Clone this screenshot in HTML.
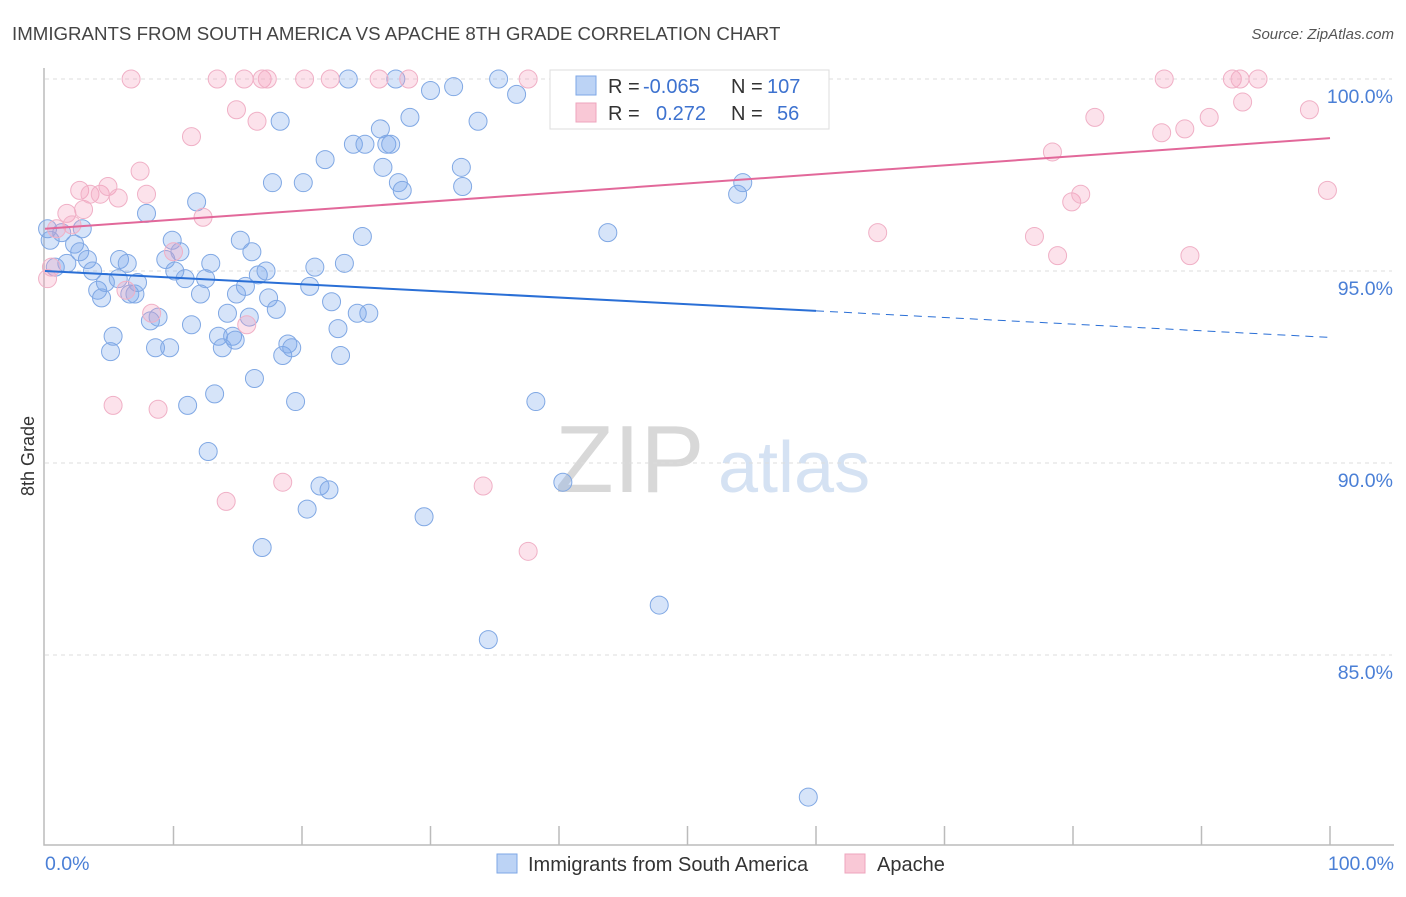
<!DOCTYPE html>
<html><head><meta charset="utf-8"><style>
body{margin:0;background:#fff;font-family:"Liberation Sans",sans-serif}
svg text{font-family:"Liberation Sans",sans-serif}
</style></head><body>
<svg id="chart" width="1406" height="892" xmlns="http://www.w3.org/2000/svg">
<text x="12" y="40" font-size="18.7" fill="#444">IMMIGRANTS FROM SOUTH AMERICA VS APACHE 8TH GRADE CORRELATION CHART</text>
<text x="1394" y="39" font-size="15" fill="#555" font-style="italic" text-anchor="end">Source: ZipAtlas.com</text>
<g>
<text x="555" y="492" font-size="96" fill="#d8d8d8" font-family="Liberation Serif,serif">ZIP</text>
<text x="718" y="492" font-size="72" fill="#d5e2f3">atlas</text>
</g>
<g id="grid"></g>
<g id="axes"></g>
<g id="pts"></g>
<g id="lines"></g>
<text transform="translate(34,456) rotate(-90)" font-size="18" fill="#333" text-anchor="middle">8th Grade</text>
<text x="45" y="870" font-size="19.5" fill="#4a7fd6">0.0%</text>
<text x="1394" y="870" font-size="19.5" fill="#4a7fd6" text-anchor="end">100.0%</text>
<g>
<rect x="550" y="70" width="279" height="59" fill="#fff" stroke="#ddd"/>
<rect x="576" y="76" width="20" height="19" fill="#bcd3f5" stroke="#7ea7e6"/>
<rect x="576" y="103" width="20" height="19" fill="#f9c8d6" stroke="#eea5bd"/>
<text x="608" y="93" font-size="20" fill="#333">R =</text>
<text x="643" y="93" font-size="20" fill="#3d72cf">-0.065</text>
<text x="731" y="93" font-size="20" fill="#333">N =</text>
<text x="767" y="93" font-size="20" fill="#3d72cf">107</text>
<text x="608" y="120" font-size="20" fill="#333">R =</text>
<text x="656" y="120" font-size="20" fill="#3d72cf">0.272</text>
<text x="731" y="120" font-size="20" fill="#333">N =</text>
<text x="777" y="120" font-size="20" fill="#3d72cf">56</text>
</g>
<g>
<rect x="497" y="854" width="20" height="19" fill="#bcd3f5" stroke="#7ea7e6"/>
<text x="528" y="871" font-size="20" fill="#333">Immigrants from South America</text>
<rect x="845" y="854" width="20" height="19" fill="#f9c8d6" stroke="#eea5bd"/>
<text x="877" y="871" font-size="20" fill="#333">Apache</text>
</g>
</svg>
<script>
const blueX=[0.2,0.4,0.8,1.3,1.7,2.3,2.7,2.9,3.3,3.7,4.1,4.4,4.7,5.1,5.3,5.7,5.8,6.4,6.6,7.0,7.2,7.9,8.2,8.6,8.8,9.7,9.4,9.9,10.1,10.5,10.9,11.4,11.1,11.8,12.1,12.5,12.7,12.9,13.2,13.5,13.8,14.2,14.6,14.8,14.9,15.2,15.6,15.9,16.1,16.3,16.6,16.9,17.2,17.4,17.7,18.0,18.3,18.5,18.9,19.2,19.5,20.1,20.6,20.4,21.0,21.4,21.8,22.1,22.3,22.8,23.0,23.3,23.6,24.0,24.3,24.7,24.9,25.2,26.1,26.3,26.6,26.9,27.5,27.8,28.4,27.3,29.5,30.0,31.8,32.4,32.5,33.7,34.5,35.3,36.7,38.2,40.3,43.8,47.8,53.9,54.3,59.4];
const blueY=[96.1,95.8,95.1,96.0,95.2,95.7,95.5,96.1,95.3,95.0,94.5,94.3,94.7,92.9,93.3,94.8,95.3,95.2,94.4,94.4,94.7,96.5,93.7,93.0,93.8,93.0,95.3,95.8,95.0,95.5,94.8,93.6,91.5,96.8,94.4,94.8,90.3,95.2,91.8,93.3,93.0,93.9,93.3,93.2,94.4,95.8,94.6,93.8,95.5,92.2,94.9,87.8,95.0,94.3,97.3,94.0,98.9,92.8,93.1,93.0,91.6,97.3,94.6,88.8,95.1,89.4,97.9,89.3,94.2,93.5,92.8,95.2,100.0,98.3,93.9,95.9,98.3,93.9,98.7,97.7,98.3,98.3,97.3,97.1,99.0,100.0,88.6,99.7,99.8,97.7,97.2,98.9,85.4,100.0,99.6,91.6,89.5,96.0,86.3,97.0,97.3,81.3];
const pinkX=[0.2,0.5,0.9,1.7,2.1,2.7,3.0,3.5,4.3,4.9,5.3,5.7,6.3,6.7,7.4,7.9,8.3,8.8,10.0,11.4,12.3,13.4,14.1,14.9,15.5,15.7,16.5,16.9,17.3,18.5,20.2,22.2,26.0,28.3,34.1,37.6,37.6,64.8,77.0,78.4,78.8,79.9,80.6,81.7,86.9,87.1,88.7,89.1,90.6,92.4,93.0,93.2,94.4,98.4,99.8];
const pinkY=[94.8,95.1,96.1,96.5,96.2,97.1,96.6,97.0,97.0,97.2,91.5,96.9,94.5,100,97.6,97.0,93.9,91.4,95.5,98.5,96.4,100,89.0,99.2,100,93.6,98.9,100,100,89.5,100,100,100,100,89.4,87.7,100,96.0,95.9,98.1,95.4,96.8,97.0,99.0,98.6,100,98.7,95.4,99.0,100,100,99.4,100,99.2,97.1];
const blueTrend=[95.0,93.27]; // value at x=0 and x=100
const pinkTrend=[96.1,98.46];
const yTicks=[100,95,90,85];
const yTickLabels=["100.0%","95.0%","90.0%","85.0%"];
const NS="http://www.w3.org/2000/svg";
const xs=v=>45+v*12.85, ys=v=>79+(100-v)*38.4;
function mk(tag,attrs,parent){const e=document.createElementNS(NS,tag);for(const k in attrs)e.setAttribute(k,attrs[k]);document.getElementById(parent).appendChild(e);return e;}
yTicks.forEach((t,i)=>{
 const g=mk('line',{x1:45,x2:1392,y1:ys(t),y2:ys(t),stroke:'#ddd','stroke-dasharray':'4,4'},'grid');
 
 
 const l=mk('text',{x:1393,y:ys(t)+24,'font-size':19.5,fill:'#4a7fd6','text-anchor':'end'},'grid');
 l.textContent=yTickLabels[i];
 
 
});
const ax=mk('path',{d:'M44,68V845H1394',fill:'none',stroke:'#bbb','stroke-width':1.5},'axes');


for(let i=1;i<=10;i++){const t=mk('line',{x1:xs(i*10),x2:xs(i*10),y1:826,y2:845,stroke:'#bbb','stroke-width':1.5},'axes');
 
 }
blueX.forEach((x,i)=>{const c=mk('circle',{cx:xs(x),cy:ys(blueY[i]),r:9,fill:'rgba(120,165,235,0.3)',stroke:'#80a8e4','stroke-width':1},'pts');
 
 });
pinkX.forEach((x,i)=>{const c=mk('circle',{cx:xs(x),cy:ys(pinkY[i]),r:9,fill:'rgba(245,160,190,0.3)',stroke:'#f0b0c6','stroke-width':1},'pts');
 
 });
const bAt=x=>blueTrend[0]+(blueTrend[1]-blueTrend[0])*x/100;
const pAt=x=>pinkTrend[0]+(pinkTrend[1]-pinkTrend[0])*x/100;
const maxBX=Math.max(...blueX);
let l1=mk('line',{x1:xs(0),y1:ys(bAt(0)),x2:xs(maxBX+0.6),y2:ys(bAt(maxBX+0.6)),stroke:'#2a6fd6','stroke-width':2},'lines');


let l2=mk('line',{x1:xs(maxBX+0.6),y1:ys(bAt(maxBX+0.6)),x2:xs(100),y2:ys(bAt(100)),stroke:'#2a6fd6','stroke-width':1,'stroke-dasharray':'8,6'},'lines');


let l3=mk('line',{x1:xs(0),y1:ys(pAt(0)),x2:xs(100),y2:ys(pAt(100)),stroke:'#e2689a','stroke-width':2},'lines');


</script>
</body></html>
